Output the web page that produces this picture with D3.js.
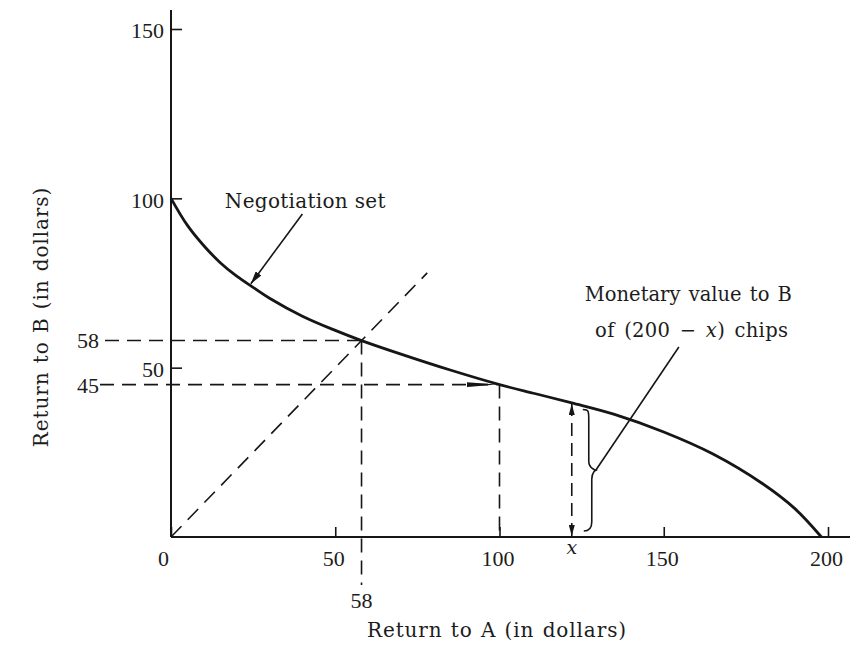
<!DOCTYPE html>
<html>
<head>
<meta charset="utf-8">
<script src="https://cdn.jsdelivr.net/npm/d3@7/dist/d3.min.js"></script>
<style>
  html, body { margin: 0; padding: 0; background: #fff; }
  svg { display: block; }
  text { font-family: "DejaVu Serif", "Liberation Serif", serif; fill: #1c1c1c; }
  text.num { font-family: "Liberation Serif", serif; }
</style>
</head>
<body>
<svg id="chart" width="859" height="655"></svg>
<script>
// ---- data ----
const xTickValues = [0, 50, 100, 150, 200];
const yTickValues = [50, 100, 150];
const negotiationA = [0, 5, 10, 15, 20, 25, 30, 40, 50, 58, 70, 85, 100, 111, 122, 135, 150, 165, 180, 190, 198];
const negotiationB = [100, 92, 86, 81, 77, 73.7, 70.5, 65.2, 61, 58, 54, 49.3, 45, 42.3, 39.6, 36.2, 31, 24.5, 15.8, 8.3, 0];
const equalSplit = [58, 58];      // (A, B) where the 45° line meets the set
const breakPoint = [100, 45];     // (A, B) kink marked by the dashed lines
const chipsX = 122;               // x marked on the A axis
const diagonalEnd = 78;           // extent of the equal-return line
const xTitle = "Return to A (in dollars)";
const yTitle = "Return to B (in dollars)";
const negotiationLabel = "Negotiation set";
const monetaryLabel = ["Monetary value to B", "of (200 \u2212 x) chips"];

// ---- scales ----
const svg = d3.select("#chart");
const x = d3.scaleLinear().domain([0, 200]).range([171, 828]);
const y = d3.scaleLinear().domain([0, 150]).range([537, 29]);
const ink = "#161616";

const pts = negotiationA.map((a, i) => [a, negotiationB[i]]);
const curveAt = a => {
  for (let i = 1; i < pts.length; i++) {
    if (a <= pts[i][0]) {
      const t = (a - pts[i-1][0]) / (pts[i][0] - pts[i-1][0]);
      return pts[i-1][1] + t * (pts[i][1] - pts[i-1][1]);
    }
  }
  return 0;
};

// markers
const defs = svg.append("defs");
function marker(id, len, wid) {
  defs.append("marker").attr("id", id)
    .attr("markerUnits", "userSpaceOnUse")
    .attr("viewBox", `0 ${-wid/2} ${len} ${wid}`)
    .attr("refX", len).attr("refY", 0)
    .attr("markerWidth", len).attr("markerHeight", wid)
    .attr("orient", "auto-start-reverse")
    .append("path").attr("d", `M0,${-wid/2}L${len},0L0,${wid/2}Z`).attr("fill", ink);
}
marker("arr", 13, 7);
marker("arrSmall", 11, 6);
marker("arrFlat", 30, 5);

// ---- axes lines ----
svg.append("line").attr("x1", x(0)).attr("x2", 850).attr("y1", y(0)).attr("y2", y(0))
  .attr("stroke", ink).attr("stroke-width", 2);
svg.append("line").attr("x1", x(0)).attr("x2", x(0)).attr("y1", y(0)).attr("y2", 10)
  .attr("stroke", ink).attr("stroke-width", 2);

// ---- ticks via d3 axes ----
const gx = svg.append("g").attr("transform", `translate(0,${y(0)})`)
  .call(d3.axisBottom(x).tickValues(xTickValues).tickSizeInner(-10).tickSizeOuter(0).tickPadding(10).tickFormat(d3.format("d")));
gx.select(".domain").remove();
gx.selectAll("line").attr("stroke", ink).attr("stroke-width", 1.6);
gx.selectAll("text").attr("class", "num").attr("font-size", 22).attr("fill", ink)
  .attr("font-family", "Liberation Serif, serif")
  .attr("dx", d => d === 0 ? -8 : -2).attr("dy", "0.85em");

const gy = svg.append("g").attr("transform", `translate(${x(0)},0)`)
  .call(d3.axisLeft(y).tickValues(yTickValues).tickSizeInner(-11).tickSizeOuter(0).tickPadding(7).tickFormat(d3.format("d")));
gy.select(".domain").remove();
gy.selectAll("line").attr("stroke", ink).attr("stroke-width", 1.6);
gy.selectAll("text").attr("class", "num").attr("font-size", 22).attr("fill", ink)
  .attr("font-family", "Liberation Serif, serif").attr("dy", "0.4em");

// ---- dashed guide lines ----
const dash = g => g.attr("stroke", ink).attr("stroke-width", 1.6).attr("fill", "none").attr("stroke-dasharray", "14,8");
// equal-return diagonal
svg.append("line").attr("x1", x(0)).attr("y1", y(0)).attr("x2", x(diagonalEnd)).attr("y2", y(diagonalEnd))
  .call(dash).attr("stroke-dasharray", "15,9");
// horizontal at B = 58
svg.append("line").attr("x1", x(0) - 66).attr("x2", x(equalSplit[0])).attr("y1", y(equalSplit[1])).attr("y2", y(equalSplit[1])).call(dash);
// vertical at A = 58, continuing below the axis
svg.append("line").attr("x1", x(equalSplit[0])).attr("x2", x(equalSplit[0])).attr("y1", y(equalSplit[1])).attr("y2", y(0) + 48).call(dash);
// horizontal at B = 45 with arrowhead to the kink
svg.append("line").attr("x1", x(0) - 71).attr("x2", x(breakPoint[0]) - 3).attr("y1", y(breakPoint[1])).attr("y2", y(breakPoint[1]))
  .call(dash).attr("marker-end", "url(#arrFlat)");
// vertical at A = 100
svg.append("line").attr("x1", x(breakPoint[0])).attr("x2", x(breakPoint[0])).attr("y1", y(breakPoint[1])).attr("y2", y(0)).call(dash);
// x double arrow
svg.append("line").attr("x1", x(chipsX)).attr("x2", x(chipsX)).attr("y1", y(0) - 1).attr("y2", y(curveAt(chipsX)) + 1)
  .call(dash).attr("stroke-dasharray", "13,7")
  .attr("marker-start", "url(#arrSmall)").attr("marker-end", "url(#arrSmall)");

// extra labels 58 / 45 / 58
svg.append("text").attr("class", "num").attr("x", x(0) - 72).attr("y", y(equalSplit[1])).attr("dy", "0.36em")
  .attr("text-anchor", "end").attr("font-size", 22).text(equalSplit[1]);
svg.append("text").attr("class", "num").attr("x", x(0) - 72).attr("y", y(breakPoint[1])).attr("dy", "0.36em")
  .attr("text-anchor", "end").attr("font-size", 22).text(breakPoint[1]);
svg.append("text").attr("class", "num").attr("x", x(equalSplit[0])).attr("y", y(0) + 71)
  .attr("text-anchor", "middle").attr("font-size", 22).text(equalSplit[0]);
svg.append("text").attr("x", x(chipsX)).attr("y", y(0) + 17)
  .attr("text-anchor", "middle").attr("font-size", 19).attr("font-style", "italic").text("x");

// ---- negotiation set curve ----
svg.append("path").datum(pts)
  .attr("d", d3.line().x(d => x(d[0])).y(d => y(d[1])).curve(d3.curveCatmullRom.alpha(0.5)))
  .attr("fill", "none").attr("stroke", ink).attr("stroke-width", 2.8);

// ---- brace ----
const bx = x(chipsX) + 14, bTop = y(curveAt(chipsX + 4)) + 3, bBot = y(0) - 6, bMid = (bTop + bBot) / 2, bw = 10;
const bracePath = `M${bx-3},${bTop} C${bx+3},${bTop} ${bx+3},${bTop+2} ${bx+3},${bTop+10}
  L${bx+3},${bMid-9} C${bx+3},${bMid-2} ${bx+bw},${bMid} ${bx+bw},${bMid}
  C${bx+bw},${bMid} ${bx+6},${bMid+2} ${bx+6},${bMid+9}
  L${bx+6},${bBot-9} C${bx+6},${bBot-2} ${bx+3},${bBot} ${bx-2},${bBot}`;
svg.append("path").attr("d", bracePath).attr("fill", "none").attr("stroke", ink).attr("stroke-width", 1.6);

// leader from brace to monetary label
svg.append("line").attr("x1", bx + bw).attr("y1", bMid).attr("x2", x(154.6)).attr("y2", y(56.1))
  .attr("stroke", ink).attr("stroke-width", 1.6);

// leader for "Negotiation set"
svg.append("line").attr("x1", x(40)).attr("y1", y(95.4)).attr("x2", x(24.3)).attr("y2", y(curveAt(24.3)) - 2)
  .attr("stroke", ink).attr("stroke-width", 1.6).attr("marker-end", "url(#arr)");

// ---- annotation texts ----
svg.append("text").attr("x", x(16.4)).attr("y", y(97.1)).attr("font-size", 20)
  .attr("letter-spacing", 0.3).text(negotiationLabel);
svg.append("text").attr("x", x(157.5)).attr("y", y(69.7)).attr("text-anchor", "middle")
  .attr("font-size", 19.5).attr("letter-spacing", 0).attr("word-spacing", 2).text(monetaryLabel[0]);
const l2 = svg.append("text").attr("x", x(158.5)).attr("y", y(59)).attr("text-anchor", "middle")
  .attr("font-size", 19.5).attr("letter-spacing", 0.3).attr("word-spacing", 3);
l2.append("tspan").text("of (200 \u2212 ");
l2.append("tspan").attr("font-style", "italic").text("x");
l2.append("tspan").text(") chips");

// ---- axis titles ----
svg.append("text").attr("x", 497).attr("y", 637).attr("text-anchor", "middle")
  .attr("font-size", 20).attr("letter-spacing", 0.9).attr("word-spacing", 1).text(xTitle);
svg.append("text").attr("transform", "translate(48,317) rotate(-90)").attr("text-anchor", "middle")
  .attr("font-size", 20).attr("letter-spacing", 0.9).attr("word-spacing", 1).text(yTitle);
</script>
</body>
</html>
